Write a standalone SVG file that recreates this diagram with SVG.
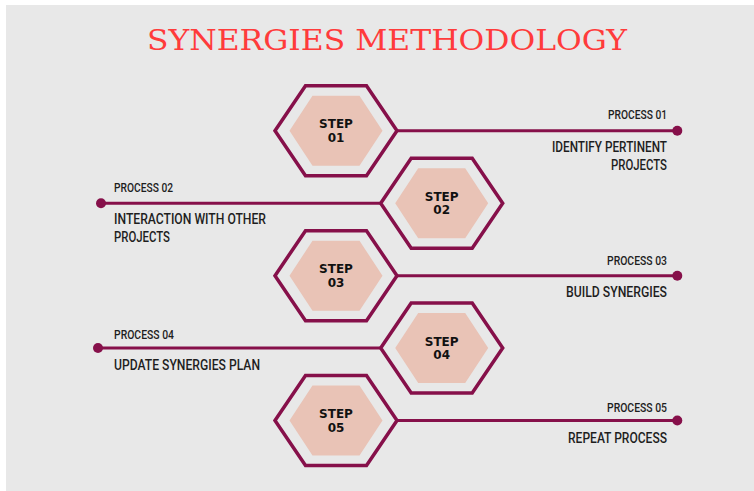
<svg xmlns="http://www.w3.org/2000/svg" width="754" height="491" viewBox="0 0 754 491">
<style>
.bg{fill:#e8e8e8}
.title{font-family:"DejaVu Serif","Liberation Serif",serif;font-size:28px;fill:#ff3b3b}
.outer{fill:none;stroke:#86104a;stroke-width:3.5;stroke-linejoin:miter}
.inner{fill:#e9c3b6}
.step{font-family:"DejaVu Sans","Liberation Sans",sans-serif;font-weight:bold;font-size:12px;fill:#111;text-anchor:middle}
.conn{stroke:#86104a;stroke-width:3;fill:none}
.dot{fill:#86104a}
.proc{font-family:Roboto,"Liberation Sans",sans-serif;font-weight:500;font-size:12px;fill:#1e1e1e}
.desc{font-family:Roboto,"Liberation Sans",sans-serif;font-weight:500;font-size:14px;fill:#1e1e1e}
.r{text-anchor:end}
</style>
<defs>
<polygon id="hexOuter" class="outer" points="-61,0 -30.5,-45 30.5,-45 61,0 30.5,45 -30.5,45"/>
<polygon id="hexInner" class="inner" points="-46.5,0 -23.5,-35 23.5,-35 46.5,0 23.5,35 -23.5,35"/>
</defs>
<rect class="bg" x="6" y="5" width="748" height="486"/>
<text class="title" x="147" y="50" textLength="480" lengthAdjust="spacingAndGlyphs">SYNERGIES METHODOLOGY</text>

<g id="connectors">
<line class="conn" x1="397" y1="130.7" x2="677" y2="130.7"/><circle class="dot" cx="677.3" cy="130.7" r="5"/>
<line class="conn" x1="101" y1="203.3" x2="381" y2="203.3"/><circle class="dot" cx="101" cy="203.3" r="5"/>
<line class="conn" x1="397" y1="275.7" x2="677" y2="275.7"/><circle class="dot" cx="677.3" cy="275.7" r="5"/>
<line class="conn" x1="98" y1="348" x2="381" y2="348"/><circle class="dot" cx="98" cy="348" r="5"/>
<line class="conn" x1="397" y1="420.5" x2="677" y2="420.5"/><circle class="dot" cx="677.3" cy="420.5" r="5"/>
</g>

<g id="step1" transform="translate(336,130.7)">
<use href="#hexOuter"/><use href="#hexInner"/>
<text class="step" x="0" y="-2.5">STEP</text><text class="step" x="0" y="11">01</text>
</g>
<g id="step2" transform="translate(441.7,203.3)">
<use href="#hexOuter"/><use href="#hexInner"/>
<text class="step" x="0" y="-2.5">STEP</text><text class="step" x="0" y="11">02</text>
</g>
<g id="step3" transform="translate(336,275.7)">
<use href="#hexOuter"/><use href="#hexInner"/>
<text class="step" x="0" y="-2.5">STEP</text><text class="step" x="0" y="11">03</text>
</g>
<g id="step4" transform="translate(441.7,348)">
<use href="#hexOuter"/><use href="#hexInner"/>
<text class="step" x="0" y="-2.5">STEP</text><text class="step" x="0" y="11">04</text>
</g>
<g id="step5" transform="translate(336,420.5)">
<use href="#hexOuter"/><use href="#hexInner"/>
<text class="step" x="0" y="-2.5">STEP</text><text class="step" x="0" y="11">05</text>
</g>

<g id="process1">
<text class="proc r" x="667" y="119.3" textLength="59" lengthAdjust="spacingAndGlyphs">PROCESS 01</text>
<text class="desc r" x="667" y="151.7" textLength="115" lengthAdjust="spacingAndGlyphs">IDENTIFY PERTINENT</text>
<text class="desc r" x="667" y="170" textLength="56" lengthAdjust="spacingAndGlyphs">PROJECTS</text>
</g>
<g id="process2">
<text class="proc" x="114" y="192.3" textLength="59" lengthAdjust="spacingAndGlyphs">PROCESS 02</text>
<text class="desc" x="114" y="224.3" textLength="152" lengthAdjust="spacingAndGlyphs">INTERACTION WITH OTHER</text>
<text class="desc" x="114" y="242.3" textLength="56" lengthAdjust="spacingAndGlyphs">PROJECTS</text>
</g>
<g id="process3">
<text class="proc r" x="667" y="265" textLength="60" lengthAdjust="spacingAndGlyphs">PROCESS 03</text>
<text class="desc r" x="667" y="296.7" textLength="101" lengthAdjust="spacingAndGlyphs">BUILD SYNERGIES</text>
</g>
<g id="process4">
<text class="proc" x="114" y="339" textLength="60" lengthAdjust="spacingAndGlyphs">PROCESS 04</text>
<text class="desc" x="114" y="370" textLength="146" lengthAdjust="spacingAndGlyphs">UPDATE SYNERGIES PLAN</text>
</g>
<g id="process5">
<text class="proc r" x="667" y="411.7" textLength="60" lengthAdjust="spacingAndGlyphs">PROCESS 05</text>
<text class="desc r" x="667" y="442.7" textLength="99" lengthAdjust="spacingAndGlyphs">REPEAT PROCESS</text>
</g>
</svg>
